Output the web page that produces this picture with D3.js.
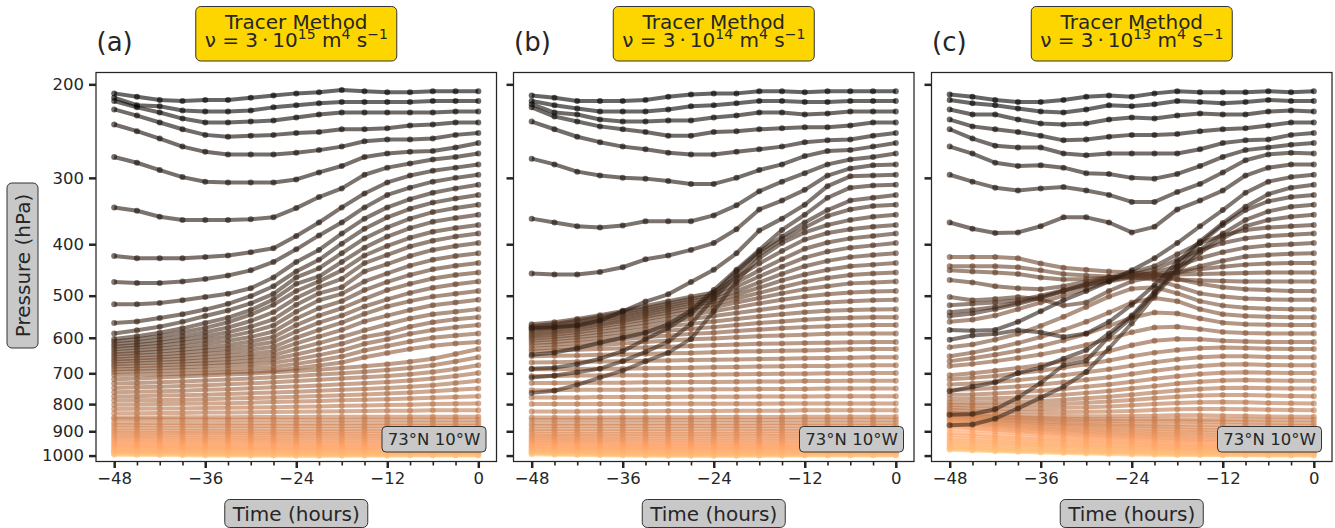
<!DOCTYPE html>
<html>
<head>
<meta charset="utf-8">
<script src="https://cdn.jsdelivr.net/npm/d3@7"></script>
<style>
  body { margin: 0; background: #fff; }
  text { font-family: "DejaVu Sans", sans-serif; fill: #262626; }
</style>
</head>
<body>
<div id="chart"></div>
<script>
// time steps (hours before arrival) and axis ticks
var hours = [-48,-45,-42,-39,-36,-33,-30,-27,-24,-21,-18,-15,-12,-9,-6,-3,0];
var xTicks = [-48,-36,-24,-12,0];
var yTicks = [200,300,400,500,600,700,800,900,1000];
var panelTags = ["(a)","(b)","(c)"];
var nuExp = ["15","14","13"];
var site = "73°N 10°W";

// pressure (hPa) of each trajectory at each time step, ordered by arrival level
var trajA = [
  [208,211,214,215,214,214,212,210,208,207,205,206,207,207,206,206,206],
  [212,219,220,224,225,225,224,221,219,217,216,216,216,216,215,215,215],
  [215,221,226,232,236,236,235,234,231,228,226,226,226,226,226,225,225],
  [223,229,236,243,249,251,250,249,247,246,243,243,242,239,238,236,236],
  [238,245,253,262,268,271,271,271,269,266,262,256,254,254,253,249,247],
  [274,281,290,299,305,306,306,306,302,293,285,274,270,268,267,263,258],
  [341,346,355,360,360,360,359,356,342,326,314,296,287,282,277,274,270],
  [421,425,425,425,423,420,414,407,386,364,341,321,306,297,291,287,283],
  [471,473,473,470,465,458,448,432,409,385,364,341,323,313,305,300,296],
  [519,519,516,510,503,496,484,462,432,410,382,358,341,329,320,314,309],
  [563,559,551,542,531,518,501,480,450,428,399,374,356,343,334,328,323],
  [589,581,572,560,546,533,517,496,462,444,416,390,372,358,348,342,337],
  [603,596,587,576,563,550,532,508,475,460,432,406,387,373,363,357,352],
  [610,604,596,586,575,561,543,520,490,470,448,420,403,389,379,373,368],
  [617,612,605,596,586,574,558,537,505,482,465,434,419,404,394,387,382],
  [624,619,613,605,596,586,572,554,520,495,482,450,436,421,410,403,398],
  [631,626,621,614,606,597,585,569,536,510,496,470,454,439,428,421,416],
  [638,634,629,623,616,608,598,584,552,528,512,488,471,457,446,439,434],
  [645,641,637,632,626,619,610,598,568,545,528,507,488,475,464,457,452],
  [652,648,645,640,635,629,621,611,584,562,545,524,508,494,483,476,470],
  [659,656,653,649,644,639,632,624,600,580,562,541,524,512,502,496,490],
  [666,663,660,657,653,649,643,636,615,597,580,559,545,532,521,515,509],
  [673,670,668,665,662,658,653,647,630,614,598,581,566,552,542,536,530],
  [680,678,676,673,670,667,663,658,645,631,616,598,588,572,561,554,549],
  [688,686,684,682,679,676,673,669,659,647,634,616,604,590,580,573,568],
  [696,694,693,691,689,687,684,681,672,662,651,634,622,610,600,594,589],
  [705,704,703,701,699,697,695,692,685,677,668,653,641,630,621,615,611],
  [718,716,713,710,707,704,701,697,693,689,684,679,673,666,657,644,630],
  [732,730,728,725,722,719,716,712,708,704,700,695,690,684,676,665,653],
  [746,744,742,740,737,734,731,728,724,720,716,712,708,703,696,687,676],
  [760,758,757,755,752,750,747,744,741,738,734,731,727,722,716,708,699],
  [774,773,771,770,768,766,763,761,758,755,752,749,746,742,737,730,723],
  [788,787,786,785,783,781,779,777,775,772,770,767,764,761,757,752,748],
  [802,801,800,799,798,797,795,793,791,789,787,785,783,781,778,776,773],
  [817,816,815,815,814,813,812,811,809,808,806,805,803,802,800,799,798],
  [832,832,831,831,830,830,829,828,827,826,825,824,823,823,822,822,822],
  [848,848,848,847,847,847,846,846,846,845,845,845,845,845,845,845,845],
  [853,854,854,855,855,856,856,856,857,857,857,856,856,856,856,856,856],
  [866,867,868,868,869,869,869,869,870,870,869,869,869,868,868,868,868],
  [876,877,878,878,879,879,880,880,880,880,880,880,879,879,879,879,879],
  [886,887,888,888,889,889,890,890,891,891,891,890,890,890,890,890,890],
  [897,898,898,899,899,900,900,901,901,901,901,900,900,900,900,900,900],
  [905,906,907,907,908,908,909,909,910,910,910,910,910,910,910,910,910],
  [914,915,916,916,917,917,918,918,919,919,919,919,919,919,919,919,919],
  [922,923,924,925,926,926,927,927,928,928,928,928,928,928,928,928,928],
  [930,931,932,933,934,934,935,935,936,936,936,936,936,936,936,936,936],
  [938,939,940,941,942,942,943,943,944,944,944,944,944,944,944,944,944],
  [945,946,947,948,949,949,950,950,951,951,951,951,951,951,951,951,951],
  [952,953,954,955,956,956,957,957,958,958,958,958,958,958,958,958,958],
  [958,959,960,961,962,962,963,963,964,964,964,964,964,964,964,964,964],
  [964,965,966,967,968,968,969,969,970,970,970,970,970,970,970,970,970],
  [970,971,971,972,973,973,974,974,975,975,975,975,975,975,975,975,975],
  [975,976,976,977,978,978,979,979,980,980,980,980,980,980,980,980,980],
  [979,980,980,981,982,982,983,983,984,984,984,984,984,984,984,984,984],
  [983,984,984,985,986,986,987,987,988,988,988,988,988,988,988,988,988],
  [987,988,988,989,990,990,991,991,992,992,992,992,992,992,992,992,992],
  [990,991,991,992,993,993,994,995,995,996,996,995,995,995,995,995,995],
  [993,994,994,995,996,997,998,998,999,999,999,998,998,998,998,998,998],
  [996,997,998,999,1000,1000,1001,1001,1002,1002,1001,1001,1001,1000,1000,1000,1000]
];

var trajB = [
  [210,212,215,215,215,214,211,209,208,208,206,206,207,206,206,206,206],
  [215,219,222,225,225,225,223,220,219,217,215,215,216,216,215,215,215],
  [218,226,228,233,235,235,234,234,231,229,226,226,228,227,225,225,225],
  [221,230,235,240,243,246,250,250,246,245,243,242,241,241,239,236,236],
  [235,243,251,257,262,265,269,271,271,268,265,262,257,255,254,250,247],
  [276,283,292,297,300,301,304,308,308,300,290,283,273,267,266,262,258],
  [358,364,370,372,369,362,362,362,353,338,318,305,294,283,277,274,270],
  [454,456,456,451,442,427,420,410,398,375,344,331,316,297,288,284,283],
  [575,573,569,557,535,513,497,471,447,416,377,358,337,311,298,297,296],
  [646,640,628,613,600,587,566,533,488,447,410,376,352,327,313,310,309],
  [686,683,673,657,636,604,575,540,494,450,413,387,364,345,331,327,323],
  [713,707,697,686,664,638,610,565,505,458,418,392,372,354,344,339,337],
  [762,755,736,713,692,665,640,603,535,470,425,398,380,368,360,355,352],
  [566,561,553,544,534,523,512,502,493,462,435,412,392,381,375,371,368],
  [570,565,557,548,538,528,517,507,498,472,448,427,408,397,390,386,382],
  [574,569,561,552,543,533,522,512,503,481,460,441,424,413,406,402,398],
  [578,573,566,557,548,538,527,517,508,490,472,455,440,430,423,419,416],
  [582,577,570,562,553,543,532,522,513,498,483,468,456,447,440,437,434],
  [587,582,575,567,558,548,538,528,519,506,494,482,471,463,457,454,452],
  [592,587,580,572,563,554,544,535,526,515,505,495,486,480,474,472,470],
  [597,592,586,578,570,561,552,543,535,526,517,509,502,497,493,491,490],
  [602,598,592,585,577,569,561,553,546,539,532,525,519,515,512,510,509],
  [608,604,599,592,585,578,571,565,559,553,547,542,537,534,532,531,530],
  [614,611,606,600,594,588,582,577,573,568,563,559,555,552,550,549,549],
  [621,618,614,609,604,599,594,590,587,583,579,576,573,571,569,568,568],
  [629,626,623,619,615,611,607,604,602,599,596,594,592,590,589,589,589],
  [636,634,632,630,628,626,624,622,620,618,616,615,614,613,612,611,611],
  [650,649,648,646,645,644,642,641,639,637,636,635,634,633,631,630,630],
  [668,667,666,665,664,663,662,661,660,659,658,657,656,655,654,653,653],
  [688,688,687,686,686,685,684,683,682,681,680,679,678,678,677,676,676],
  [708,708,707,707,706,706,705,705,704,703,702,701,701,700,700,699,699],
  [730,730,729,729,729,728,728,727,727,726,725,725,724,724,723,723,723],
  [753,753,752,752,752,751,751,751,750,750,749,749,749,748,748,748,748],
  [777,777,777,776,776,776,776,775,775,775,774,774,774,773,773,773,773],
  [800,800,800,800,800,800,799,799,799,799,799,798,798,798,798,798,798],
  [826,826,826,825,825,825,824,824,824,823,823,823,822,822,822,822,822],
  [848,848,848,848,847,847,847,847,846,846,846,846,845,845,845,845,845],
  [857,857,857,857,857,857,857,857,857,857,857,856,856,856,856,856,856],
  [870,870,870,870,870,869,869,869,869,869,868,868,868,868,868,868,868],
  [880,880,880,880,880,880,880,880,880,880,880,879,879,879,879,879,879],
  [891,891,891,891,891,891,891,890,890,890,890,890,890,890,890,890,890],
  [900,900,901,901,901,901,901,901,901,901,900,900,900,900,900,900,900],
  [910,911,911,911,911,911,911,911,911,911,910,910,910,910,910,910,910],
  [918,919,919,920,920,920,920,920,920,920,919,919,919,919,919,919,919],
  [926,927,928,928,929,929,929,929,929,929,929,928,928,928,928,928,928],
  [933,934,935,936,936,937,937,937,937,937,937,936,936,936,936,936,936],
  [940,941,942,943,944,945,945,945,945,945,945,944,944,944,944,944,944],
  [946,947,948,950,951,952,952,952,952,952,952,951,951,951,951,951,951],
  [952,953,955,956,957,958,959,959,959,959,959,958,958,958,958,958,958],
  [958,959,961,962,963,964,965,965,965,965,965,964,964,964,964,964,964],
  [964,965,967,968,969,970,971,971,971,971,971,970,970,970,970,970,970],
  [968,970,971,973,974,975,976,976,976,976,976,975,975,975,975,975,975],
  [973,975,976,978,979,980,981,981,981,981,981,980,980,980,980,980,980],
  [977,979,980,982,983,984,985,985,985,985,985,984,984,984,984,984,984],
  [981,983,984,986,987,988,989,989,989,989,989,988,988,988,988,988,988],
  [985,987,988,990,991,992,993,993,993,993,993,992,992,992,992,992,992],
  [988,990,991,993,994,995,996,996,996,996,996,995,995,995,995,995,995],
  [991,993,994,996,997,998,999,999,999,999,999,998,998,998,998,998,998],
  [994,996,997,999,1000,1001,1002,1002,1002,1002,1001,1001,1000,1000,1000,1000,1000]
];

var trajC = [
  [209,211,214,216,216,214,211,210,211,208,206,207,207,207,206,207,206],
  [214,217,219,222,225,226,223,219,220,218,215,216,217,216,214,215,215],
  [223,228,228,233,237,238,237,233,231,232,229,227,228,228,225,224,225],
  [233,240,243,246,250,255,254,251,249,249,248,245,243,242,239,236,236],
  [243,253,261,263,263,270,272,270,270,270,270,265,258,255,254,249,247],
  [262,270,281,285,284,287,294,295,300,301,295,285,274,266,263,260,258],
  [296,305,313,317,314,312,317,323,333,333,319,308,293,278,271,269,270],
  [364,374,381,380,370,356,356,364,380,371,344,331,317,297,287,283,283],
  [580,582,580,560,535,510,490,470,448,425,398,370,345,320,305,299,296],
  [605,594,590,581,586,598,589,560,520,478,432,395,365,340,322,313,309],
  [757,742,728,699,683,657,633,589,545,492,440,398,368,345,332,326,323],
  [838,835,818,778,730,676,663,597,550,495,445,410,382,360,347,340,337],
  [877,874,852,815,778,742,696,628,564,500,450,415,390,370,360,355,352],
  [546,540,530,518,505,490,475,462,452,440,418,398,385,376,372,370,368],
  [537,532,525,515,503,490,478,466,456,446,428,410,398,390,386,384,382],
  [521,518,515,510,500,488,477,468,460,452,440,425,414,406,402,400,398],
  [503,510,507,503,508,522,515,490,470,460,452,440,430,422,419,417,416],
  [467,472,480,484,486,480,470,462,458,455,452,446,441,437,435,434,434],
  [448,450,452,455,462,466,465,462,460,458,456,455,454,453,452,452,452],
  [440,440,440,442,448,455,458,460,462,463,466,468,469,470,470,470,470],
  [423,423,423,425,435,443,447,450,452,456,465,475,482,486,488,490,490],
  [560,555,545,530,515,500,485,470,462,466,480,495,502,506,508,509,509],
  [625,618,605,590,570,548,525,502,485,482,495,512,522,527,529,530,530],
  [650,640,628,614,598,580,560,538,515,505,512,530,542,546,548,549,549],
  [664,656,646,635,622,607,590,570,550,538,540,552,562,566,567,568,568],
  [678,672,664,655,645,633,619,603,586,574,572,578,585,588,589,589,589],
  [706,700,692,684,675,664,651,636,620,608,603,604,608,610,611,611,611],
  [718,714,708,700,692,683,673,662,650,640,633,628,626,627,629,630,630],
  [735,732,727,721,714,706,697,688,677,667,659,653,650,650,652,653,653],
  [752,750,746,741,735,728,720,712,702,692,684,678,674,673,675,676,676],
  [768,767,764,760,755,749,742,735,726,717,709,702,698,697,698,699,699],
  [782,782,780,777,773,768,762,756,748,740,732,726,722,721,722,723,723],
  [794,795,794,792,789,785,780,775,768,761,754,749,746,745,747,748,748],
  [803,805,805,804,802,799,795,791,786,780,775,771,769,769,771,772,773],
  [812,815,816,816,815,813,811,808,804,800,796,794,793,794,796,797,798],
  [820,824,826,827,828,828,827,826,824,821,818,817,817,818,820,821,822],
  [828,833,836,839,841,842,843,843,842,841,840,840,841,842,844,845,845],
  [832,838,843,847,850,852,853,854,854,854,854,855,855,855,856,856,856],
  [836,842,847,851,854,857,859,861,862,862,862,863,864,865,867,868,868],
  [840,847,853,858,862,866,869,871,873,874,874,875,876,877,878,879,879],
  [845,852,858,863,868,872,875,878,880,882,883,885,886,887,889,890,890],
  [850,857,864,869,874,879,883,886,889,891,893,895,896,897,899,900,900],
  [855,862,869,875,881,886,890,894,897,900,902,904,906,907,909,910,910],
  [860,868,875,882,888,893,898,902,906,909,911,913,915,916,918,919,919],
  [866,873,880,887,893,899,904,909,913,916,919,921,923,925,927,928,928],
  [873,880,887,894,900,906,911,916,920,924,927,930,932,934,935,936,936],
  [880,887,894,901,907,913,918,923,927,931,934,937,939,941,943,944,944],
  [890,896,902,908,914,920,925,929,933,937,940,943,946,948,950,951,951],
  [905,910,915,920,925,930,934,938,942,946,949,952,954,956,957,958,958],
  [915,919,924,929,933,937,941,945,948,952,955,958,960,962,963,964,964],
  [925,929,933,937,941,945,949,952,955,958,961,964,966,968,969,970,970],
  [935,938,942,946,950,953,956,959,962,965,967,970,972,973,974,975,975],
  [942,945,949,952,956,959,962,965,968,970,973,975,977,978,979,980,980],
  [950,953,956,959,962,965,968,971,973,975,977,979,981,982,983,984,984],
  [957,960,963,966,969,972,974,977,979,981,983,985,986,987,988,988,988],
  [963,966,969,972,975,978,980,982,984,986,988,989,990,991,992,992,992],
  [968,971,974,977,979,982,984,986,988,989,991,992,993,994,995,995,995],
  [972,975,978,981,984,986,988,990,992,993,995,996,997,997,998,998,998],
  [975,978,981,984,987,989,991,993,995,996,997,998,999,999,1000,1000,1000]
];

var trajs = [trajA, trajB, trajC];

// layout
var W = 1335, H = 528;
var panelLeft = [96, 513.5, 931.5],
    pw = 400.5,
    plotTop = 72.5,
    ph = 389;

var svg = d3.select("#chart")
  .append("svg")
    .attr("width", W)
    .attr("height", H)
    .style("background", "#fff");

var defs = svg.append("defs");

var x = d3.scaleLinear().domain([-50.4, 2.4]).range([0, pw]);
var y = d3.scaleLog().domain([1026, 190]).range([ph, 0]);

// matplotlib "copper" colormap
function copper(v) {
  return d3.rgb(Math.min(1, v / 0.809524) * 255, 0.7812 * v * 255, 0.4975 * v * 255).toString();
}

var line = d3.line()
  .x(function(d, i) { return x(hours[i]); })
  .y(function(d) { return y(d); });

trajs.forEach(function(traj, p) {
  var g = svg.append("g")
    .attr("transform", "translate(" + panelLeft[p] + "," + plotTop + ")");

  defs.append("clipPath")
    .attr("id", "clip" + p)
  .append("rect")
    .attr("width", pw)
    .attr("height", ph);

  var plot = g.append("g").attr("clip-path", "url(#clip" + p + ")");
  var n = traj.length;

  // lowest levels first so the upper (dark) trajectories end on top
  for (var k = n - 1; k >= 0; k--) {
    var col = copper(k / (n - 1));
    var tr = plot.append("g");
    tr.append("path")
      .datum(traj[k])
      .attr("d", line)
      .attr("fill", "none")
      .attr("stroke", col)
      .attr("stroke-opacity", 0.6)
      .attr("stroke-width", 4)
      .attr("stroke-linejoin", "round");
    tr.selectAll("circle")
      .data(traj[k])
      .enter().append("circle")
        .attr("cx", function(d, i) { return x(hours[i]); })
        .attr("cy", function(d) { return y(d); })
        .attr("r", 3)
        .attr("fill", col)
        .attr("fill-opacity", 0.6);
  }

  // frame
  g.append("rect")
    .attr("width", pw)
    .attr("height", ph)
    .attr("fill", "none")
    .attr("stroke", "#262626")
    .attr("stroke-width", 1.25);

  // x axis: major + minor ticks
  var xMajor = g.append("g")
    .attr("transform", "translate(0," + ph + ")")
    .call(d3.axisBottom(x).tickValues(xTicks).tickSize(6.5).tickPadding(4).tickFormat(d3.format("d")));
  var xMinor = g.append("g")
    .attr("transform", "translate(0," + ph + ")")
    .call(d3.axisBottom(x).tickValues(hours.filter(function(h) { return xTicks.indexOf(h) < 0; })).tickSize(4).tickFormat(""));

  var yAxis = g.append("g")
    .call(d3.axisLeft(y).tickValues(yTicks).tickSize(7).tickPadding(5)
      .tickFormat(p === 0 ? d3.format("d") : function() { return ""; }));

  [xMajor, xMinor, yAxis].forEach(function(a) {
    a.select(".domain").remove();
    a.selectAll("line").attr("stroke", "#262626");
    a.selectAll("text").attr("font-size", "16.5px").attr("font-family", "DejaVu Sans").attr("fill", "#262626");
  });
  xMajor.selectAll("line").attr("stroke-width", 2.5);
  xMinor.selectAll("line").attr("stroke-width", 1.6);
  yAxis.selectAll("line").attr("stroke-width", 2.5);

  // panel tag
  svg.append("text")
    .attr("x", panelLeft[p] + 0.5)
    .attr("y", 51)
    .attr("font-size", "26px")
    .text(panelTags[p]);

  // title box
  var cx = panelLeft[p] + pw / 2;
  svg.append("rect")
    .attr("x", cx - 100.5)
    .attr("y", 6.5)
    .attr("width", 201)
    .attr("height", 54.5)
    .attr("rx", 5)
    .attr("fill", "#fdd600")
    .attr("stroke", "#333")
    .attr("stroke-width", 1);
  svg.append("text")
    .attr("x", cx)
    .attr("y", 29)
    .attr("text-anchor", "middle")
    .attr("font-size", "20px")
    .text("Tracer Method");
  var t2 = svg.append("text")
    .attr("x", cx)
    .attr("y", 46.5)
    .attr("text-anchor", "middle")
    .attr("font-size", "20px");
  t2.append("tspan").text("ν = 3\u2009·\u200910");
  t2.append("tspan").attr("dy", -7.5).attr("font-size", "14px").text(nuExp[p]);
  t2.append("tspan").attr("dy", 7.5).text(" m");
  t2.append("tspan").attr("dy", -7.5).attr("font-size", "14px").text("4");
  t2.append("tspan").attr("dy", 7.5).text(" s");
  t2.append("tspan").attr("dy", -7.5).attr("font-size", "14px").text("\u22121");

  // location box
  var bx = panelLeft[p] + pw - 10.5;
  svg.append("rect")
    .attr("x", bx - 104)
    .attr("y", 426.5)
    .attr("width", 104)
    .attr("height", 25.5)
    .attr("rx", 4)
    .attr("fill", "#c8c8c8")
    .attr("stroke", "#333")
    .attr("stroke-width", 1);
  svg.append("text")
    .attr("x", bx - 52)
    .attr("y", 445)
    .attr("text-anchor", "middle")
    .attr("font-size", "16.5px")
    .text(site);

  // x label box
  svg.append("rect")
    .attr("x", cx - 71.5)
    .attr("y", 499.5)
    .attr("width", 143)
    .attr("height", 28)
    .attr("rx", 5)
    .attr("fill", "#c8c8c8")
    .attr("stroke", "#333")
    .attr("stroke-width", 1);
  svg.append("text")
    .attr("x", cx)
    .attr("y", 520.5)
    .attr("text-anchor", "middle")
    .attr("font-size", "20px")
    .text("Time (hours)");
});

// y label box
svg.append("rect")
  .attr("x", 7)
  .attr("y", 183)
  .attr("width", 31)
  .attr("height", 165)
  .attr("rx", 5)
  .attr("fill", "#c8c8c8")
  .attr("stroke", "#333")
  .attr("stroke-width", 1);
svg.append("text")
  .attr("transform", "translate(29.5,265.5) rotate(-90)")
  .attr("text-anchor", "middle")
  .attr("font-size", "20px")
  .text("Pressure (hPa)");
</script>
</body>
</html>
